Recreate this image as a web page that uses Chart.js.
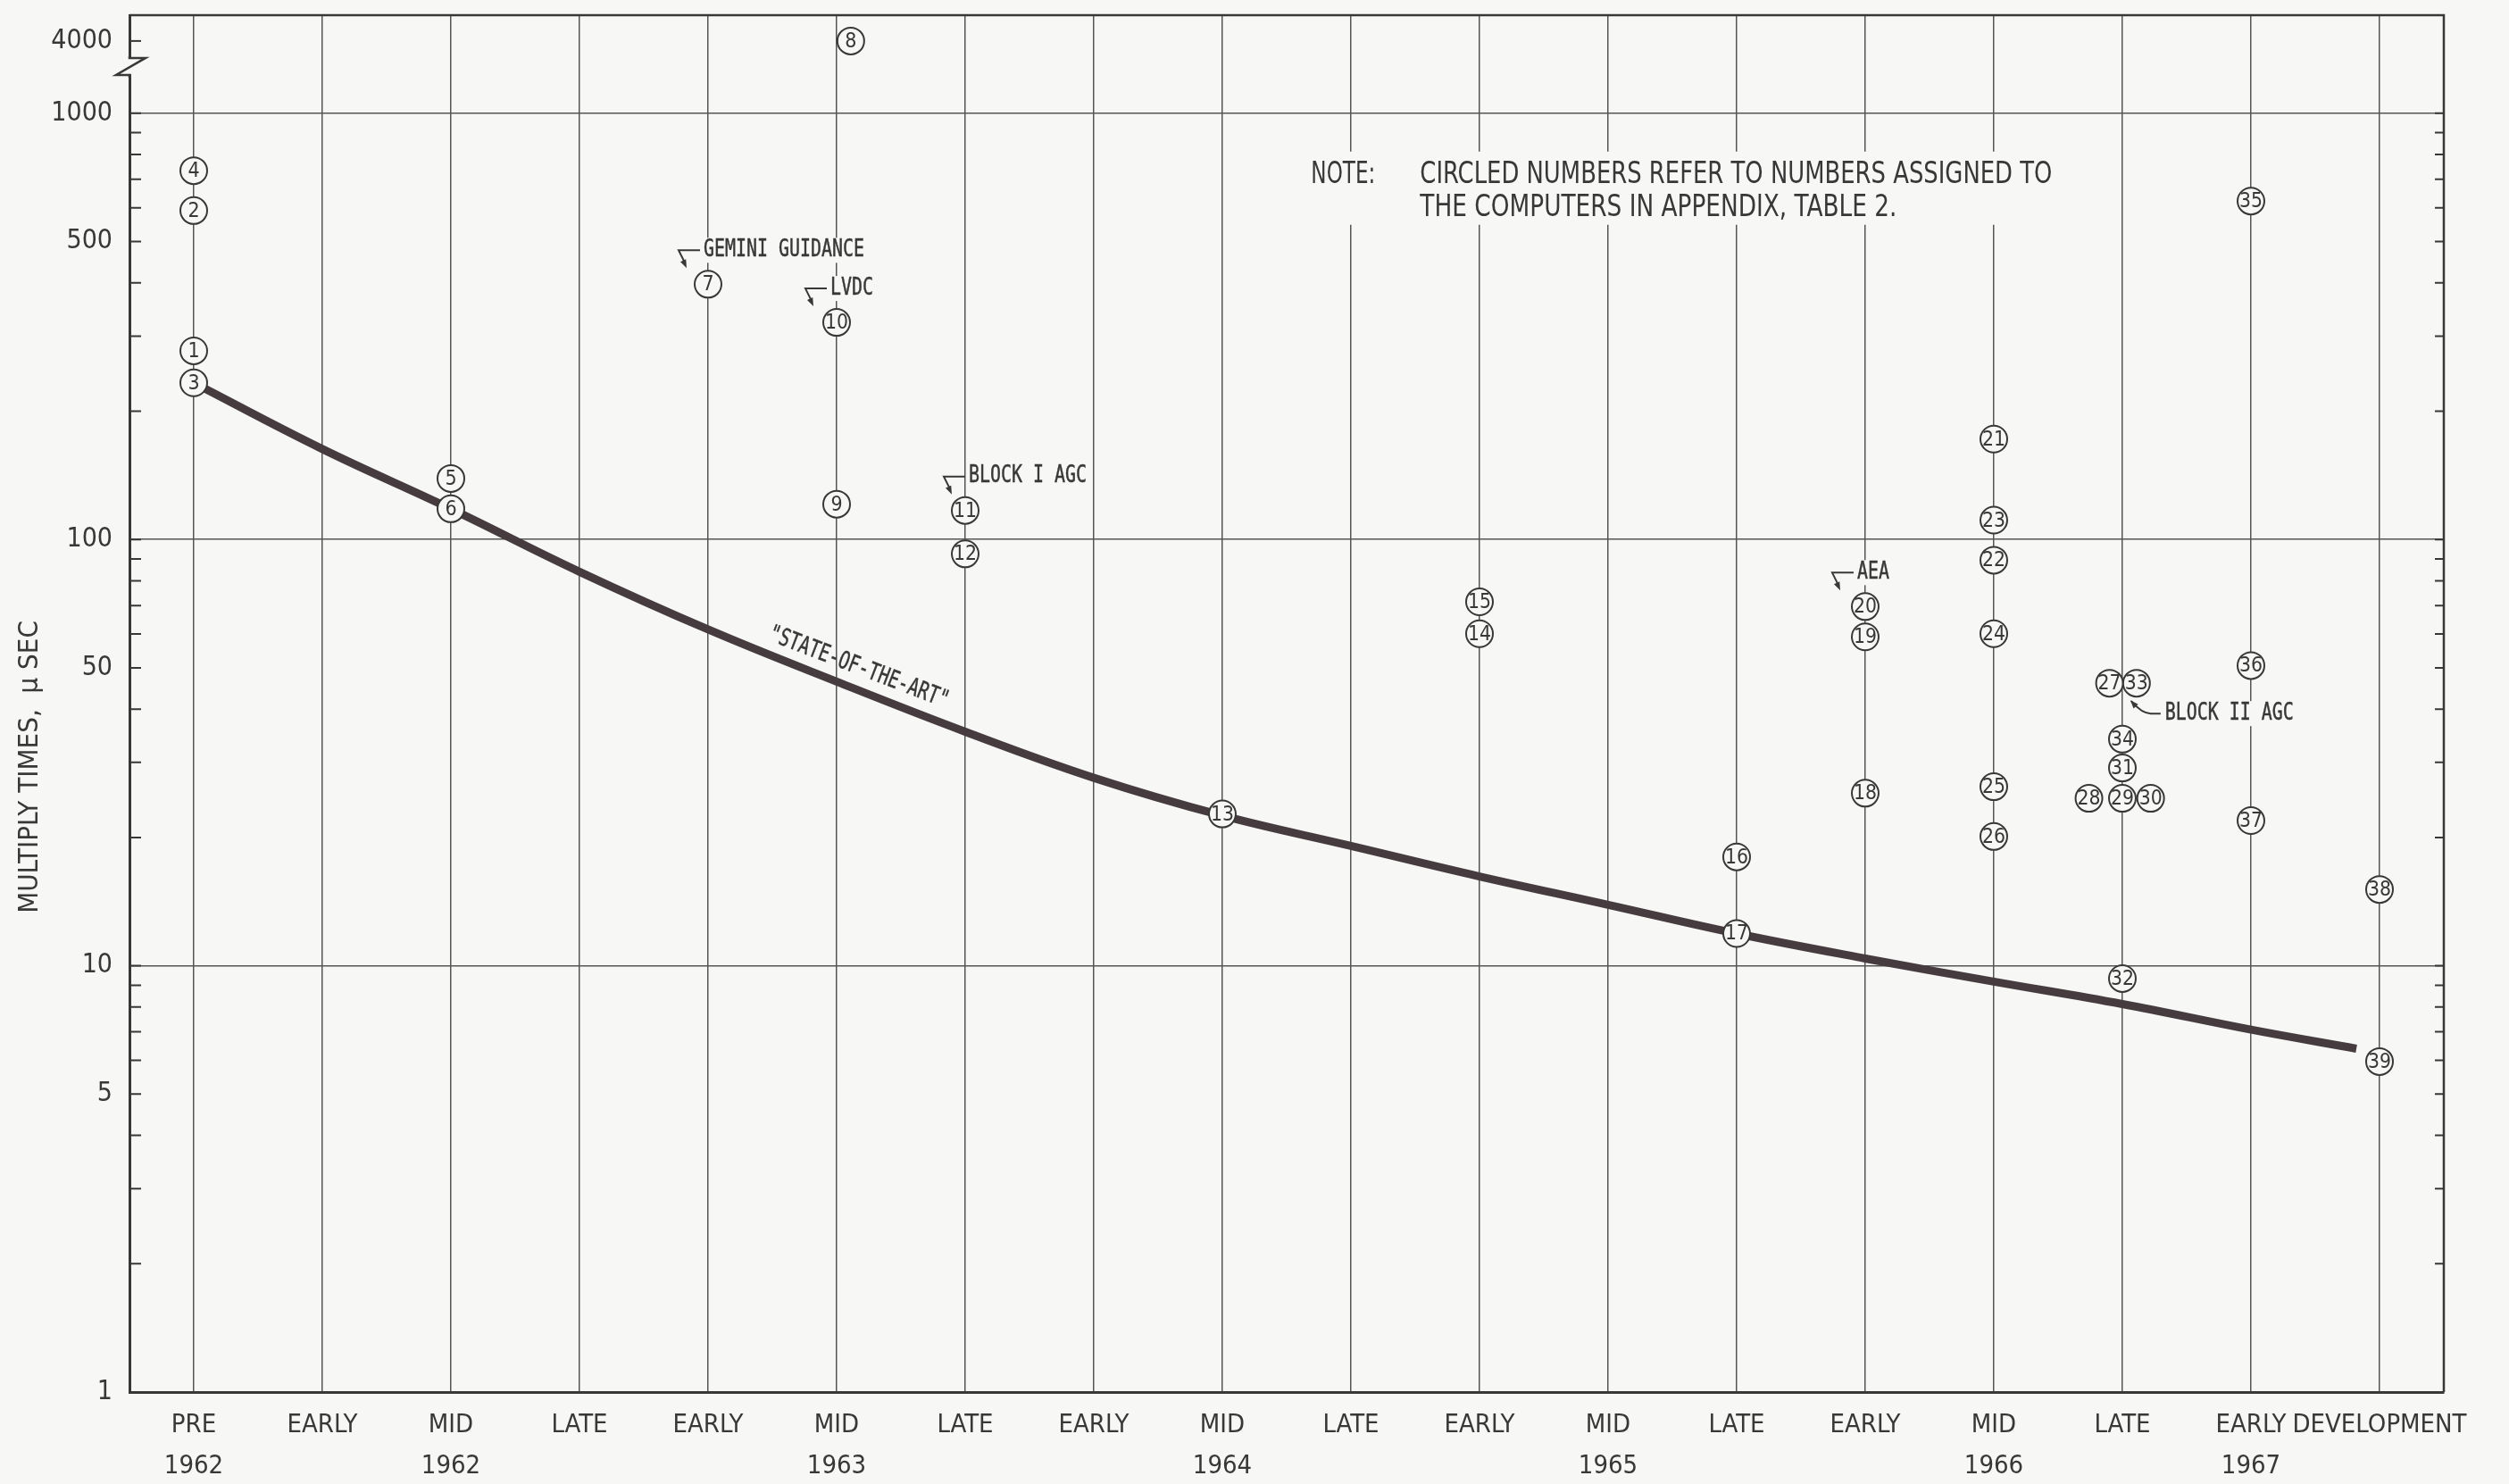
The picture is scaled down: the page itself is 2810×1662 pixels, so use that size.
<!DOCTYPE html>
<html>
<head>
<meta charset="utf-8">
<script src="https://cdn.jsdelivr.net/npm/chart.js@4.4.1/dist/chart.umd.min.js"></script>
<style>
  html, body { margin: 0; padding: 0; background: #f7f7f5; }
  canvas { display: block; }
</style>
</head>
<body>
<canvas id="chart" width="2810" height="1662"></canvas>
<script>
// DATA
// ---------------------------------------------------
const PERIODS = [ 'PRE', 'EARLY', 'MID', 'LATE', 'EARLY', 'MID', 'LATE', 'EARLY', 'MID',
    'LATE', 'EARLY', 'MID', 'LATE', 'EARLY', 'MID', 'LATE', 'EARLY', 'DEVELOPMENT' ];
const YEARS = [ '1962', '', '1962', '', '', '1963', '', '', '1964',
    '', '', '1965', '', '', '1966', '', '1967', '' ];

const COMPUTER_NUMBERS = [ 1, 2, 3, 4, 5, 6, 7, 8, 9, 10, 11, 12, 13, 14, 15, 16, 17, 18, 19, 20,
    21, 22, 23, 24, 25, 26, 27, 28, 29, 30, 31, 32, 33, 34, 35, 36, 37, 38, 39 ];
const COMPUTER_PERIOD = [ 0, 0, 0, 0, 2, 2, 4, 5, 5, 5, 6, 6, 8, 10, 10, 12, 12, 13, 13, 13,
    14, 14, 14, 14, 14, 14, 15, 15, 15, 15, 15, 15, 15, 15, 16, 16, 16, 17, 17 ];
const MULTIPLY_TIMES = [ 277, 591, 233, 733, 139, 118, 397, 4000, 121, 323, 117, 92.5, 22.7, 60.1, 71.4, 18.0, 11.9, 25.4, 59.1, 69.6,
    172, 89.4, 111, 60.1, 26.3, 20.1, 46, 24.7, 24.7, 24.7, 29.1, 9.33, 46, 34.0, 622, 50.6, 21.9, 15.1, 5.96 ];
// circles set beside each other on the same period line (fraction of a period)
const SIDE_SHIFT = [ 0, 0, 0, 0, 0, 0, 0, 0.11, 0, 0, 0, 0, 0, 0, 0, 0, 0, 0, 0, 0,
    0, 0, 0, 0, 0, 0, -0.1, -0.26, 0, 0.22, 0, 0, 0.11, 0, 0, 0, 0, 0, 0 ];

const STATE_OF_ART_PERIOD = [ 0, 1, 2, 3, 4, 5, 6, 7, 8, 9, 10, 11, 12, 13, 14, 15, 16, 16.82 ];
const STATE_OF_ART_TIMES = [ 233, 163, 118, 84, 61.5, 46.4, 35.4, 27.6, 22.5, 19.1, 16.2, 13.9, 11.9, 10.4, 9.18, 8.13, 7.08, 6.39 ];

const Y_LABELS = [ 1, 5, 10, 50, 100, 500, 1000, 4000 ];
const Y_MINOR = [ 1, 2, 3, 4, 5, 6, 7, 8, 9, 10, 20, 30, 40, 50, 60, 70, 80, 90,
    100, 200, 300, 400, 500, 600, 700, 800, 900, 1000 ];
const Y_GRID = [ 10, 100, 1000 ];

const CALLOUTS = [
    { ref: 7, text: 'GEMINI GUIDANCE', dx: -5 },
    { ref: 10, text: 'LVDC', dx: -7 },
    { ref: 11, text: 'BLOCK I AGC', dx: 4 },
    { ref: 20, text: 'AEA', dx: -9 },
    { ref: 33, text: 'BLOCK II AGC', tail: true }
];

// STYLE
// ---------------------------------------------------
const PAPER = '#f7f7f5';
const INK = '#383838';
const GRID = '#555555';
const CURVE = '#463c40';
const NARROW = '"Liberation Sans Narrow", "DejaVu Sans Condensed", "Roboto Condensed", sans-serif';
const LETTERING = '"DejaVu Sans Mono", "Liberation Mono", monospace';

// broken axis above 1000: 4000 is squeezed just under the top border
const BREAK_FROM = 1000;
const BREAK_EXP = 0.2814;
function squeeze( v ) {
    return v > BREAK_FROM ? BREAK_FROM * Math.pow( v / BREAK_FROM, BREAK_EXP ) : v;
}

const computerPoints = COMPUTER_NUMBERS.map( ( n, i ) => ({
    x: COMPUTER_PERIOD[ i ] + SIDE_SHIFT[ i ],
    y: squeeze( MULTIPLY_TIMES[ i ] ),
    n: n
}) );
const curvePoints = STATE_OF_ART_PERIOD.map( ( p, i ) => ({ x: p, y: STATE_OF_ART_TIMES[ i ] }) );

function arrowHead( ctx, x0, y0, x1, y1, size ) {
    const a = Math.atan2( y1 - y0, x1 - x0 );
    ctx.beginPath();
    ctx.moveTo( x1, y1 );
    ctx.lineTo( x1 - size * Math.cos( a - 0.35 ), y1 - size * Math.sin( a - 0.35 ) );
    ctx.lineTo( x1 - size * Math.cos( a + 0.35 ), y1 - size * Math.sin( a + 0.35 ) );
    ctx.closePath();
    ctx.fill();
}

// stencil-like lettering: a bit taller than the mono font, lightly stroked
function lettering( ctx, text, x, y, w ) {
    ctx.save();
    ctx.translate( x, y );
    ctx.scale( 1, 1.18 );
    ctx.fillText( text, 0, 0, w );
    ctx.lineWidth = 0.4;
    ctx.strokeText( text, 0, 0, w );
    ctx.restore();
}

function pointPixel( chart, n ) {
    const meta = chart.getDatasetMeta( 0 );
    const el = meta.data[ COMPUTER_NUMBERS.indexOf( n ) ];
    return { x: el.x, y: el.y };
}

// PLUGIN: paper, frame, inside ticks, axis break, lettering
// ---------------------------------------------------
const paperPlugin = {
    id: 'paper',
    beforeDraw( chart ) {
        const ctx = chart.ctx;
        ctx.save();
        ctx.fillStyle = PAPER;
        ctx.fillRect( 0, 0, chart.width, chart.height );
        ctx.restore();
    },
    beforeDatasetsDraw( chart ) {
        const ctx = chart.ctx;
        const xs = chart.scales.x;
        const ys = chart.scales.y;
        ctx.save();
        ctx.fillStyle = PAPER;
        // knock the grid out behind the note and the callout texts
        const nx = xs.getPixelForValue( 8.62 );
        const ny = ys.getPixelForValue( 717 );
        ctx.fillRect( nx - 10, ny - 26, 870, 82 );
        CALLOUTS.forEach( c => {
            const p = pointPixel( chart, c.ref );
            const w = 12 * c.text.length;
            if ( c.tail ) {
                ctx.fillRect( p.x + 30, p.y + 20, w + 6, 28 );
            } else {
                ctx.fillRect( p.x + c.dx - 2, p.y - 52, w + 6, 28 );
            }
        });
        ctx.restore();
    },
    afterDatasetsDraw( chart ) {
        const ctx = chart.ctx;
        const xs = chart.scales.x;
        const ys = chart.scales.y;
        const area = chart.chartArea;
        ctx.save();

        // circled numbers
        ctx.fillStyle = INK;
        ctx.textAlign = 'center';
        ctx.textBaseline = 'middle';
        ctx.font = '23px ' + NARROW;
        chart.getDatasetMeta( 0 ).data.forEach( ( el, i ) => {
            ctx.fillText( String( COMPUTER_NUMBERS[ i ] ), el.x, el.y + 1, 26 );
        });

        // frame: top and right borders
        ctx.strokeStyle = INK;
        ctx.lineWidth = 2.5;
        ctx.beginPath();
        ctx.moveTo( area.left, area.top );
        ctx.lineTo( area.right, area.top );
        ctx.lineTo( area.right, area.bottom );
        ctx.stroke();

        // inside tick marks
        ctx.lineWidth = 2;
        Y_MINOR.concat( [ 4000 ] ).forEach( v => {
            if ( v === 1 ) return;
            const y = ys.getPixelForValue( squeeze( v ) );
            ctx.beginPath();
            ctx.moveTo( area.left, y );
            ctx.lineTo( area.left + 13, y );
            if ( v <= 1000 ) {
                ctx.moveTo( area.right, y );
                ctx.lineTo( area.right - 10, y );
            }
            ctx.stroke();
        });

        // axis break between 1000 and 4000
        const yTop = ys.getPixelForValue( squeeze( 4000 ) ) + 19;
        const yBot = yTop + 19;
        ctx.fillStyle = PAPER;
        ctx.fillRect( area.left - 4, yTop + 1, 8, yBot - yTop - 2 );
        ctx.lineWidth = 2.5;
        ctx.beginPath();
        ctx.moveTo( area.left, yTop - 2 );
        ctx.lineTo( area.left, yTop );
        ctx.lineTo( area.left + 18, yTop );
        ctx.lineTo( area.left - 15, yBot );
        ctx.lineTo( area.left, yBot );
        ctx.lineTo( area.left, yBot + 3 );
        ctx.stroke();

        // callouts
        ctx.fillStyle = INK;
        ctx.strokeStyle = INK;
        ctx.textAlign = 'left';
        ctx.textBaseline = 'middle';
        ctx.font = '22px ' + LETTERING;
        CALLOUTS.forEach( c => {
            const p = pointPixel( chart, c.ref );
            const w = 12 * c.text.length;
            ctx.lineWidth = 2;
            if ( c.tail ) {
                const tx = p.x + 32;
                const ty = p.y + 34;
                lettering( ctx, c.text, tx, ty, w );
                ctx.beginPath();
                ctx.moveTo( tx - 5, ty );
                ctx.lineTo( p.x + 16, ty );
                ctx.quadraticCurveTo( p.x + 6, ty, p.x - 6, p.y + 20 );
                ctx.stroke();
                arrowHead( ctx, p.x + 2, p.y + 29, p.x - 7, p.y + 19, 10 );
            } else {
                const tx = p.x + c.dx;
                const ty = p.y - 38;
                lettering( ctx, c.text, tx, ty, w );
                ctx.beginPath();
                ctx.moveTo( tx - 4, ty );
                ctx.lineTo( tx - 28, ty );
                ctx.lineTo( tx - 21, ty + 14 );
                ctx.stroke();
                arrowHead( ctx, tx - 28, ty, tx - 19, ty + 20, 10 );
            }
        });

        // curve label
        ctx.save();
        ctx.translate( xs.getPixelForValue( 5.17 ), ys.getPixelForValue( 50 ) );
        ctx.rotate( 21 * Math.PI / 180 );
        ctx.textAlign = 'center';
        ctx.font = '23px ' + LETTERING;
        lettering( ctx, '"STATE-OF-THE-ART"', 0, 0, 214 );
        ctx.restore();

        // note
        const nx = xs.getPixelForValue( 8.69 );
        const ny = ys.getPixelForValue( 717 );
        ctx.font = '34px ' + NARROW;
        ctx.fillText( 'NOTE:', nx, ny, 72 );
        ctx.fillText( 'CIRCLED NUMBERS REFER TO NUMBERS ASSIGNED TO', nx + 122, ny, 708 );
        ctx.fillText( 'THE COMPUTERS IN APPENDIX, TABLE 2.', nx + 122, ny + 37, 534 );

        // y axis title
        ctx.save();
        ctx.translate( 34, ( area.top + area.bottom ) / 2 + 71 );
        ctx.rotate( -Math.PI / 2 );
        ctx.textAlign = 'center';
        ctx.font = '31px ' + NARROW;
        ctx.fillText( 'MULTIPLY TIMES,  \u03bc SEC', 0, 0, 339 );
        ctx.restore();

        ctx.restore();
    }
};

// CHART
// ---------------------------------------------------
const chart = new Chart( document.querySelector( '#chart' ), {
    type: 'scatter',
    data: {
        datasets: [
            {
                label: 'Computers',
                data: computerPoints,
                pointRadius: 15,
                pointBorderWidth: 2,
                pointBorderColor: INK,
                pointBackgroundColor: PAPER,
                order: 0
            },
            {
                type: 'line',
                label: 'State-of-the-art',
                data: curvePoints,
                borderColor: CURVE,
                borderWidth: 9,
                pointRadius: 0,
                tension: 0.4,
                fill: false,
                order: 1
            }
        ]
    },
    options: {
        responsive: false,
        animation: false,
        devicePixelRatio: 1,
        layout: { padding: { top: 14, right: 73, left: 0, bottom: 0 } },
        plugins: {
            legend: { display: false },
            tooltip: { enabled: false }
        },
        scales: {
            x: {
                type: 'linear',
                min: -0.5,
                max: 17.5,
                afterBuildTicks: s => { s.ticks = PERIODS.map( ( p, i ) => ({ value: i }) ); },
                afterFit: s => { s.height = 103; s.paddingLeft = 0; s.paddingRight = 0; },
                grid: { color: GRID, lineWidth: 1.5, drawTicks: false },
                border: { color: INK, width: 3 },
                ticks: {
                    autoSkip: false,
                    maxRotation: 0,
                    padding: 14,
                    color: INK,
                    font: { family: NARROW, size: 29, lineHeight: 1.6 },
                    callback: v => YEARS[ v ] ? [ PERIODS[ v ], YEARS[ v ] ] : PERIODS[ v ]
                }
            },
            y: {
                type: 'logarithmic',
                min: 1,
                max: 1698,
                afterBuildTicks: s => { s.ticks = Y_MINOR.concat( [ 4000 ] ).map( v => ({ value: squeeze( v ) }) ); },
                afterFit: s => { s.width = 145; s.paddingTop = 0; s.paddingBottom = 0; },
                grid: {
                    drawTicks: false,
                    lineWidth: 1.5,
                    color: c => ( c.tick && Y_GRID.includes( c.tick.value ) ) ? GRID : 'rgba(0,0,0,0)'
                },
                border: { color: INK, width: 3 },
                ticks: {
                    autoSkip: false,
                    padding: 19,
                    color: INK,
                    font: { family: NARROW, size: 30 },
                    callback: v => {
                        const hit = Y_LABELS.find( t => Math.abs( squeeze( t ) - v ) < 1e-6 );
                        return hit ? String( hit ) : '';
                    }
                }
            }
        }
    },
    plugins: [ paperPlugin ]
});
</script>
</body>
</html>
